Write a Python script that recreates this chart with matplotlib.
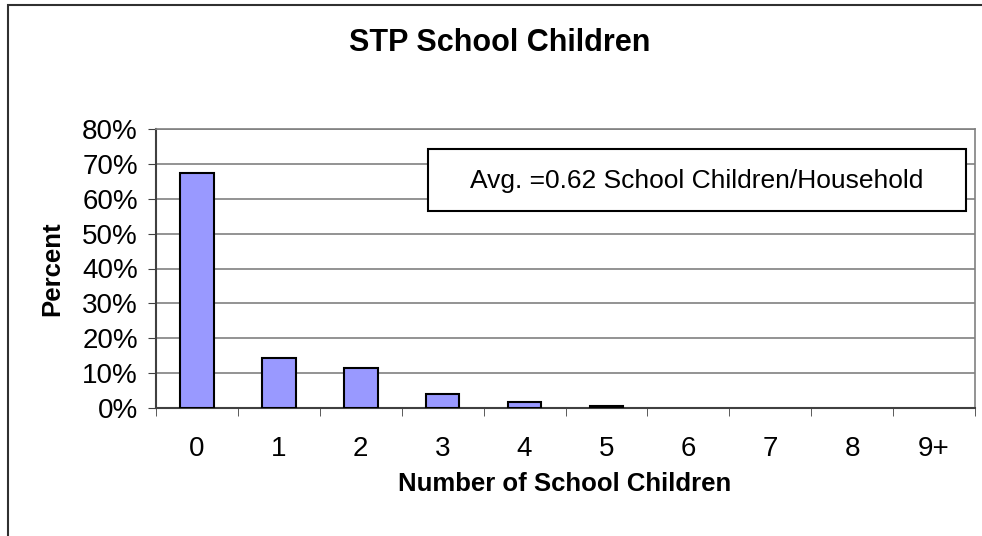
import matplotlib.pyplot as plt
from matplotlib.patches import Rectangle

# Data
categories = ["0", "1", "2", "3", "4", "5", "6", "7", "8", "9+"]
percent = [67.3, 14.4, 11.5, 4.1, 1.8, 0.5, 0, 0, 0, 0]
avg_text = "Avg. =0.62 School Children/Household"

plt.rcParams["font.family"] = ["Liberation Sans", "DejaVu Sans"]

W, H = 982, 536
fig = plt.figure(figsize=(W / 100, H / 100), dpi=100)
ax = fig.add_axes([156 / W, 1 - 408 / H, (975 - 156) / W, (408 - 129) / H])

x = list(range(len(categories)))
edges = ["black" if v > 0 else "none" for v in percent]
ax.bar(x, percent, width=0.41, color="#9999FF", edgecolor=edges, linewidth=1.5, zorder=3)

ax.set_xlim(-0.5, len(categories) - 0.5)
ax.set_ylim(0, 80)
ax.set_yticks(range(0, 81, 10))
ax.set_yticklabels([f"{v}%" for v in range(0, 81, 10)], fontsize=20)
ax.set_xticks(x)
ax.set_xticklabels(categories, fontsize=20)
ax.tick_params(axis="x", length=0, pad=20)
ax.set_xticks([i - 0.5 for i in range(len(categories) + 1)], minor=True)
ax.tick_params(axis="x", which="minor", length=6, direction="out", color="#404040")
ax.tick_params(axis="y", length=6, direction="out", color="#404040", pad=7)

ax.grid(axis="y", color="#808080", linewidth=1.2, zorder=0)
for side in ["top", "right"]:
    ax.spines[side].set_color("#808080")
    ax.spines[side].set_linewidth(1.2)
for side in ["left", "bottom"]:
    ax.spines[side].set_color("#404040")
    ax.spines[side].set_linewidth(1.5)

fig.text(565 / W, 1 - 484 / H, "Number of School Children", fontsize=18.5,
         fontweight="bold", ha="center", va="center")
fig.text(52 / W, 1 - 269 / H, "Percent", fontsize=18.5, fontweight="bold",
         rotation=90, ha="center", va="center")
fig.text(500 / W, 1 - 43 / H, "STP School Children",
         fontsize=22, fontweight="bold", ha="center", va="center")

# annotation box
box = Rectangle((428 / W, 1 - 211 / H), (966 - 428) / W, (211 - 149) / H,
                transform=fig.transFigure, fc="white", ec="black", lw=1.5, zorder=4)
box.set_clip_on(False)
ax.add_patch(box)
fig.text(697 / W, 1 - 181 / H, avg_text, fontsize=19, ha="center", va="center", zorder=5)

# outer chart border
fig.patches.append(Rectangle((8 / W, -0.05), 1.2, 1 - 5 / H + 0.05,
                             transform=fig.transFigure, fill=False, ec="#303030", lw=1.5))

fig.savefig("out.png", dpi=100)
